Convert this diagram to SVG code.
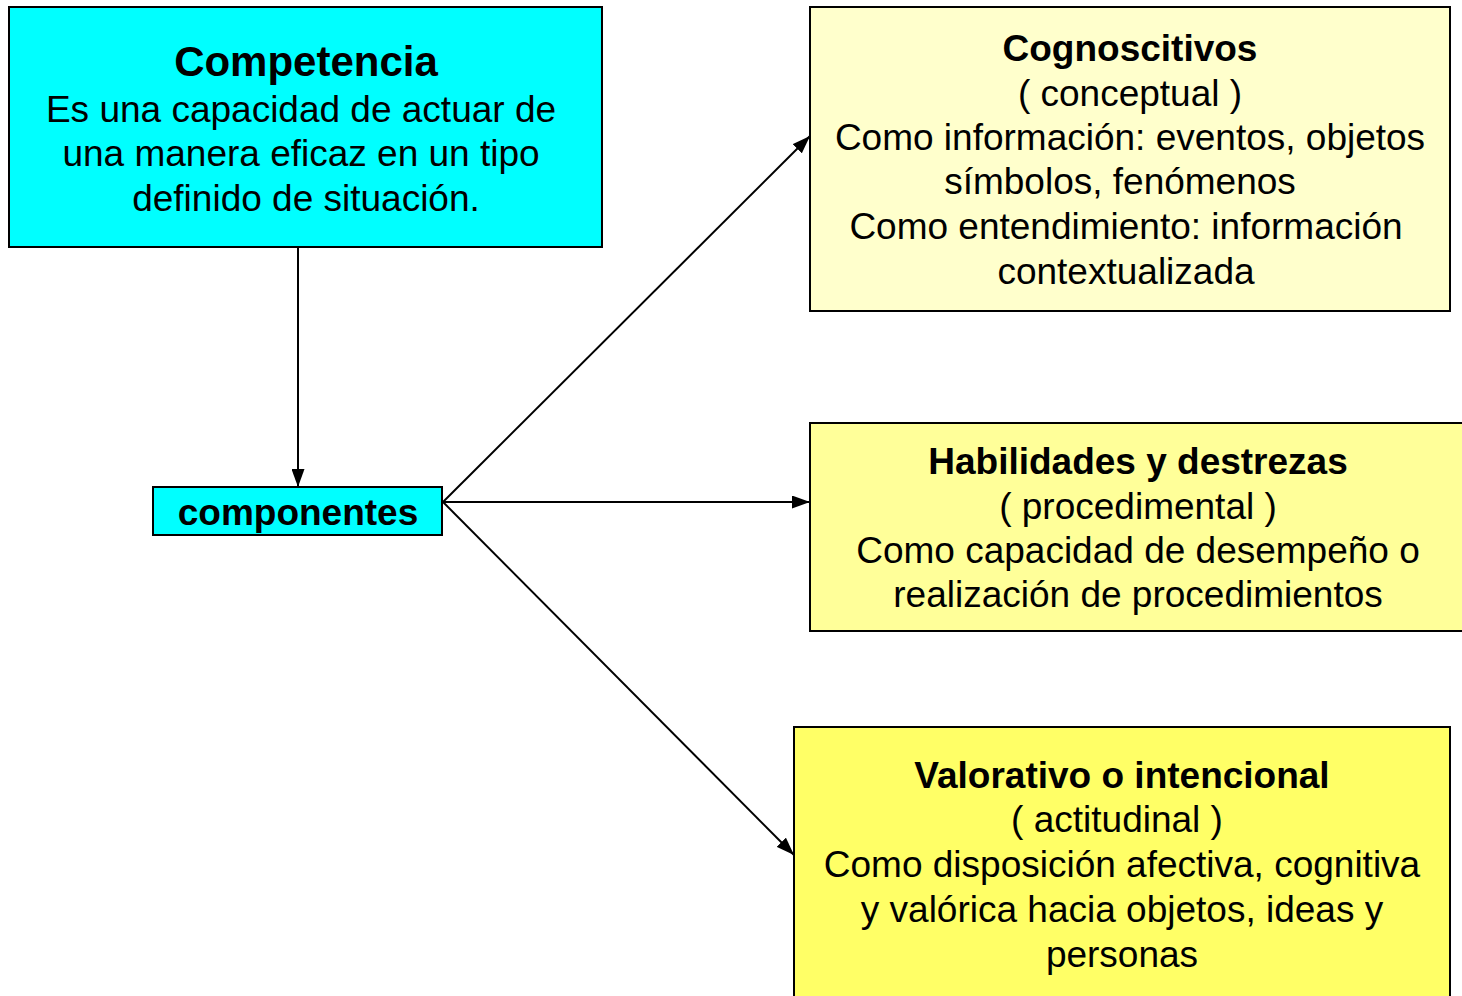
<svg xmlns="http://www.w3.org/2000/svg" width="1462" height="996" viewBox="0 0 1462 996">
<style>
.box{stroke:#000;stroke-width:2}
.t{font-family:"Liberation Sans",Arial,sans-serif;font-size:37px;fill:#000;text-anchor:middle}
.b{font-weight:bold}
.c{stroke:#000;stroke-width:2;fill:none;marker-end:url(#ah)}
</style>
<defs>
<marker id="ah" viewBox="0 0 18 13" refX="18" refY="6.5" markerWidth="18" markerHeight="13" markerUnits="userSpaceOnUse" orient="auto">
<path d="M0,0 L18,6.5 L0,13 Z" fill="#000"/>
</marker>
</defs>
<rect width="1462" height="996" fill="#fff"/>
<g id="connectors">
<line class="c" x1="298" y1="247" x2="298" y2="487"/>
<line class="c" x1="443" y1="502" x2="810" y2="136"/>
<line class="c" x1="443" y1="502" x2="810" y2="502"/>
<line class="c" x1="443" y1="502" x2="794" y2="855"/>
</g>
<g id="competencia">
<rect class="box" x="9" y="7" width="593" height="240" fill="#00FFFF"/>
<text class="t b" x="306" y="76" style="font-size:42px">Competencia</text>
<text class="t" x="301" y="122">Es una capacidad de actuar de</text>
<text class="t" x="301" y="166">una manera eficaz en un tipo</text>
<text class="t" x="306" y="211">definido de situación.</text>
</g>
<g id="componentes">
<rect class="box" x="153" y="487" width="289" height="48" fill="#00FFFF"/>
<text class="t b" x="298" y="525">componentes</text>
</g>
<g id="cognoscitivos">
<rect class="box" x="810" y="7" width="640" height="304" fill="#FFFFCC"/>
<text class="t b" x="1130" y="61">Cognoscitivos</text>
<text class="t" x="1130" y="106">( conceptual )</text>
<text class="t" x="1130" y="150">Como información: eventos, objetos</text>
<text class="t" x="1120" y="194">símbolos, fenómenos</text>
<text class="t" x="1126" y="239">Como entendimiento: información</text>
<text class="t" x="1126" y="284">contextualizada</text>
</g>
<g id="habilidades">
<rect class="box" x="810" y="423" width="656" height="208" fill="#FFFF99"/>
<text class="t b" x="1138" y="474">Habilidades y destrezas</text>
<text class="t" x="1138" y="519">( procedimental )</text>
<text class="t" x="1138" y="563">Como capacidad de desempeño o</text>
<text class="t" x="1138" y="607">realización de procedimientos</text>
</g>
<g id="valorativo">
<rect class="box" x="794" y="727" width="656" height="280" fill="#FFFF66"/>
<text class="t b" x="1122" y="788">Valorativo o intencional</text>
<text class="t" x="1117" y="832">( actitudinal )</text>
<text class="t" x="1122" y="877">Como disposición afectiva, cognitiva</text>
<text class="t" x="1122" y="922">y valórica hacia objetos, ideas y</text>
<text class="t" x="1122" y="967">personas</text>
</g>
</svg>
